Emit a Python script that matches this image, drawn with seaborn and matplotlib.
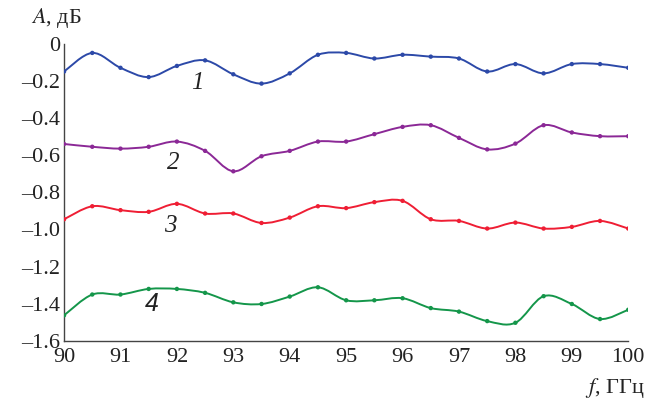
import matplotlib
matplotlib.use("Agg")
import matplotlib.pyplot as plt
import numpy as np
import pandas as pd
import seaborn as sns
from matplotlib.path import Path
from matplotlib.patches import PathPatch

# frequency grid, GHz
freq = [90.0, 90.5, 91.0, 91.5, 92.0, 92.5, 93.0, 93.5, 94.0, 94.5, 95.0,
        95.5, 96.0, 96.5, 97.0, 97.5, 98.0, 98.5, 99.0, 99.5, 100.0]

# attenuation, dB
curve_1 = [-0.15, -0.05, -0.13, -0.18, -0.12, -0.09, -0.165, -0.215, -0.16, -0.06, -0.05,
           -0.08, -0.06, -0.07, -0.08, -0.15, -0.11, -0.16, -0.11, -0.11, -0.13]
curve_2 = [-0.54, -0.555, -0.565, -0.555, -0.527, -0.577, -0.687, -0.606, -0.577, -0.527, -0.527,
           -0.487, -0.448, -0.439, -0.507, -0.569, -0.538, -0.439, -0.478, -0.498, -0.498]
curve_3 = [-0.945, -0.875, -0.896, -0.905, -0.862, -0.914, -0.914, -0.965, -0.936, -0.875, -0.885,
           -0.853, -0.846, -0.945, -0.954, -0.995, -0.963, -0.995, -0.986, -0.954, -0.995]
curve_4 = [-1.462, -1.35, -1.35, -1.32, -1.32, -1.341, -1.392, -1.401, -1.361, -1.311, -1.381,
           -1.381, -1.37, -1.423, -1.442, -1.493, -1.502, -1.359, -1.401, -1.482, -1.432]

curve_names = ["1", "2", "3", "4"]
curve_colors = ["#2c49a8", "#8b2896", "#ef1e34", "#14964a"]
label_pos = [(92.36, -0.21), (91.94, -0.64), (91.88, -0.98), (91.55, -1.40)]
label_fonts = ["Liberation Serif", "Liberation Serif", "Liberation Serif", "Liberation Sans"]

y_ticks = [0, -0.2, -0.4, -0.6, -0.8, -1.0, -1.2, -1.4, -1.6]
x_ticks = list(range(90, 101))


def smooth_path(x, y):
    # Catmull-Rom through the measured points, as cubic bezier segments
    p = np.column_stack([x, y])
    pad = np.vstack([p[0], p, p[-1]])
    verts = [p[0]]
    codes = [Path.MOVETO]
    for i in range(len(p) - 1):
        p0, p1, p2, p3 = pad[i], pad[i + 1], pad[i + 2], pad[i + 3]
        verts += [p1 + (p2 - p0) / 6, p2 - (p3 - p1) / 6, p2]
        codes += [Path.CURVE4] * 3
    return Path(verts, codes)


sns.set_style("white")
plt.rcParams["font.family"] = ["Liberation Serif", "DejaVu Serif"]
plt.rcParams["mathtext.fontset"] = "stix"

df = pd.DataFrame({"f": freq * 4,
                   "A": curve_1 + curve_2 + curve_3 + curve_4,
                   "curve": sum([[n] * len(freq) for n in curve_names], [])})

fig = plt.figure(figsize=(6.47, 4.04), dpi=100)
ax = fig.add_axes([0.099, 0.156, 0.872, 0.736])

for name, color, vals in zip(curve_names, curve_colors, [curve_1, curve_2, curve_3, curve_4]):
    ax.add_patch(PathPatch(smooth_path(freq, vals), facecolor="none",
                           edgecolor=color, lw=1.4, zorder=2))

sns.scatterplot(data=df, x="f", y="A", hue="curve", palette=curve_colors,
                s=10, edgecolor="none", legend=False, ax=ax, zorder=3)

for name, (lx, ly), fam in zip(curve_names, label_pos, label_fonts):
    ax.text(lx, ly, name, fontsize=18, style="italic", ha="center", va="center",
            color="#222222", family=[fam, "DejaVu Serif"])

ax.set_xlim(90, 100)
ax.set_ylim(-1.6, 0)
ax.set_xticks(x_ticks)
ax.set_yticks(y_ticks)
ax.set_yticklabels(["0"] + [f"\u2013{abs(v):.1f}" for v in y_ticks[1:]])
ax.tick_params(direction="in", length=6, width=1, labelsize=16, colors="#333333",
               labelcolor="#222222")
ax.tick_params(axis="x", pad=5)
ax.tick_params(axis="y", pad=3)
sns.despine(ax=ax)
for s in ["left", "bottom"]:
    ax.spines[s].set_color("#444444")
    ax.spines[s].set_linewidth(1.0)
ax.set_xlabel("")
ax.set_ylabel("")

fig.text(0.048, 0.955, "$A$, дБ", fontsize=16, ha="left", va="center", color="#222222")
fig.text(0.997, 0.04, "$f$, ГГц", fontsize=16, ha="right", va="center", color="#222222")

plt.savefig("out.png", dpi=100)
